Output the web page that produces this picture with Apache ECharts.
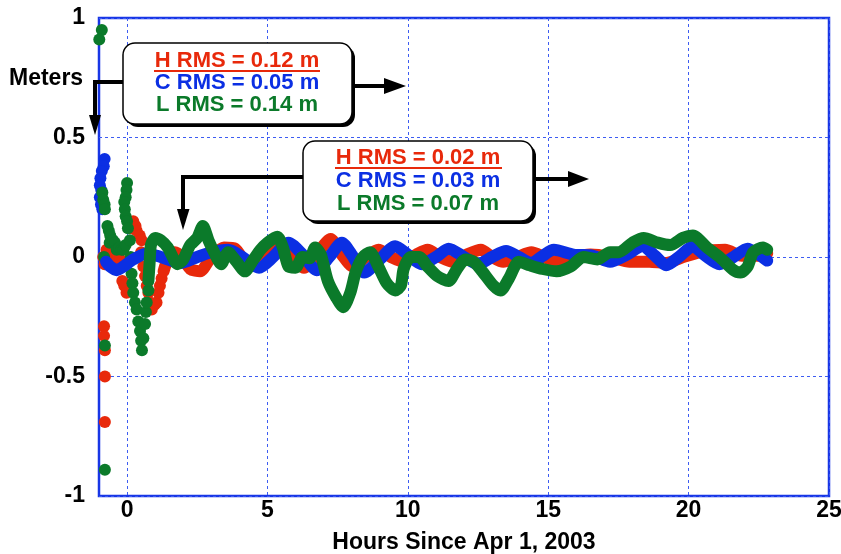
<!DOCTYPE html>
<html>
<head>
<meta charset="utf-8">
<title>Meters vs hours</title>
<script src="https://cdn.jsdelivr.net/npm/echarts@6.0.0/dist/echarts.min.js"></script>
<style>
html, body { margin: 0; padding: 0; background: #fff; }
#chart { width: 841px; height: 554px; }
</style>
</head>
<body>
<div id="chart"></div>
<script>
// tick values
const xTicks = [0, 5, 10, 15, 20, 25];
const yTicks = [-1, -0.5, 0, 0.5, 1];

// H (red) - scattered early dots, then the steady trail
const hDots = [
    [-0.82, -0.29], [-0.82, -0.33], [-0.79, -0.39], [-0.79, -0.50], [-0.79, -0.69],
    [-0.85, 0.0], [-0.8, -0.03], [-0.73, 0.03], [-0.6, 0.01], [-0.49, 0.0], [-0.37, -0.01], [-0.25, -0.01],
    [-0.17, -0.1], [-0.1, -0.12], [-0.02, -0.15],
    [0.15, 0.12], [0.22, 0.15], [0.3, 0.13], [0.34, 0.11], [0.45, 0.09], [0.52, 0.07],
    [0.5, 0.02], [0.58, -0.04], [0.64, -0.08], [0.7, -0.12], [0.76, -0.15], [0.82, -0.19], [0.88, -0.22],
    [0.98, -0.2], [1.05, -0.19], [1.12, -0.15], [1.17, -0.12], [1.23, -0.09]
];
const hTrail = [
    [1.3, -0.06], [1.45, -0.01], [1.7, 0.02], [1.95, 0.0], [2.25, -0.05], [2.6, -0.06], [3.0, 0.0],
    [3.45, 0.04], [3.85, 0.035], [4.35, -0.04], [4.8, -0.01], [5.3, 0.07], [5.8, 0.02], [6.3, -0.045],
    [6.8, 0.02], [7.25, 0.075], [7.65, 0.01], [8.05, -0.04], [8.5, 0.0], [8.95, 0.03], [9.4, 0.0],
    [9.85, -0.02], [10.3, 0.01], [10.7, 0.03], [11.15, 0.0], [11.6, -0.02], [12.1, 0.01], [12.6, 0.03],
    [13.0, 0.0], [13.4, -0.02], [13.9, 0.0], [14.4, 0.02], [14.85, 0.0], [15.3, -0.02], [15.9, 0.0],
    [16.5, 0.01], [17.2, 0.0], [17.9, -0.02], [18.6, -0.02], [19.2, -0.025], [19.8, 0.0], [20.4, 0.02],
    [21.3, 0.03], [21.9, 0.005], [22.4, 0.005], [22.8, 0.015]
];

// C (blue)
const cDots = [
    [-0.8, 0.41], [-0.83, 0.38], [-0.9, 0.36], [-0.95, 0.33], [-0.97, 0.3], [-0.92, 0.28],
    [-0.97, 0.25], [-0.93, 0.22], [-0.88, 0.2]
];
const cTrail = [
    [-0.75, -0.02], [-0.6, -0.04], [-0.37, -0.055], [-0.13, -0.04], [0.22, -0.01], [0.7, 0.015],
    [1.2, 0.0], [1.9, -0.025], [2.5, 0.0], [3.0, 0.02], [3.6, 0.03], [4.1, 0.0], [4.7, -0.045],
    [5.2, 0.0], [5.75, 0.06], [6.25, 0.01], [6.75, -0.055], [7.2, 0.0], [7.65, 0.06], [8.0, 0.01],
    [8.45, -0.065], [9.0, -0.01], [9.55, 0.045], [10.0, 0.01], [10.5, -0.03], [11.0, 0.0], [11.45, 0.035],
    [12.0, 0.0], [12.5, -0.03], [13.0, 0.0], [13.5, 0.025], [13.95, 0.0], [14.4, -0.025], [14.8, 0.005],
    [15.2, 0.03], [15.9, 0.01], [16.6, 0.005], [17.2, -0.02], [17.8, 0.01], [18.35, 0.045], [18.8, 0.005],
    [19.2, -0.035], [19.7, 0.005], [20.15, 0.045], [20.6, 0.005], [21.1, -0.03], [21.6, 0.0], [22.1, 0.035],
    [22.5, 0.01], [22.8, -0.015]
];

// L (green)
const lDots = [
    [-0.9, 0.95], [-0.99, 0.91], [-0.82, 0.0], [-0.79, -0.37], [-0.79, -0.89],
    [-0.88, 0.27], [-0.85, 0.24], [-0.8, 0.22], [-0.79, 0.2],
    [-0.7, 0.13], [-0.65, 0.11], [-0.6, 0.09], [-0.62, 0.06], [-0.5, 0.07], [-0.43, 0.06], [-0.37, 0.03],
    [-0.28, 0.04], [-0.2, 0.03], [-0.13, 0.03], [-0.05, 0.05],
    [0.0, 0.31], [-0.02, 0.28], [-0.05, 0.25], [-0.1, 0.23], [-0.08, 0.2], [-0.05, 0.17], [0.0, 0.15], [0.03, 0.12],
    [0.1, 0.07], [0.13, 0.0], [0.16, -0.07], [0.19, -0.11], [0.22, -0.15], [0.28, -0.19], [0.34, -0.22],
    [0.4, -0.27], [0.46, -0.31], [0.5, -0.35], [0.53, -0.39], [0.58, -0.34], [0.64, -0.28], [0.67, -0.23],
    [0.7, -0.19], [0.76, -0.14]
];
const lTrail = [
    [0.76, -0.1], [0.8, -0.03], [0.85, 0.05], [1.0, 0.08], [1.2, 0.07], [1.45, 0.04], [1.8, -0.03],
    [2.0, -0.01], [2.25, 0.05], [2.5, 0.08], [2.7, 0.13], [2.9, 0.07], [3.1, 0.02], [3.35, -0.03],
    [3.6, 0.02], [3.9, -0.02], [4.2, -0.06], [4.45, -0.02], [4.75, 0.03], [5.0, 0.06], [5.35, 0.085],
    [5.55, 0.04], [5.75, -0.04], [6.0, -0.045], [6.25, 0.0], [6.5, -0.005], [6.7, 0.04], [6.9, 0.01],
    [7.15, -0.1], [7.45, -0.17], [7.7, -0.21], [7.95, -0.15], [8.15, -0.06], [8.4, 0.0], [8.65, 0.02],
    [8.95, -0.04], [9.25, -0.11], [9.55, -0.14], [9.75, -0.12], [9.85, -0.05], [10.1, 0.0], [10.4, 0.0],
    [10.7, -0.04], [11.05, -0.08], [11.45, -0.1], [11.75, -0.05], [12.05, -0.01], [12.35, -0.02],
    [12.65, -0.06], [13.05, -0.12], [13.3, -0.14], [13.6, -0.09], [13.95, -0.02], [14.35, -0.035],
    [14.8, -0.05], [15.3, -0.06], [15.8, -0.04], [16.25, 0.0], [16.75, -0.01], [17.2, 0.02], [17.5, 0.02],
    [18.0, 0.06], [18.4, 0.08], [18.9, 0.06], [19.35, 0.05], [19.8, 0.08], [20.15, 0.09], [20.65, 0.04],
    [21.1, 0.0], [21.6, -0.055], [21.85, -0.065], [22.1, -0.04], [22.3, 0.02], [22.65, 0.04], [22.8, 0.03]
];

const RED = '#e8290b';
const BLUE = '#0b2fe3';
const GREEN = '#0b7a2a';
const FONT = "'Liberation Sans', Arial, Helvetica, sans-serif";

let myChart = echarts.init(document.getElementById('chart'), null, { renderer: 'canvas' });

function dots(data, color) {
    return {
        type: 'scatter', data: data, symbolSize: 12,
        itemStyle: { color: color, opacity: 1 }, silent: true
    };
}

function trail(data, color) {
    return {
        type: 'line', data: data, smooth: 0.25, showSymbol: false, silent: true,
        lineStyle: { width: 12, color: color, cap: 'round', join: 'round' }
    };
}

// annotation box: rounded rect with a dark drop shadow and three lines of text
function box(x, y, w, h, cx, lines, ly) {
    let els = [
        { type: 'rect', shape: { x: x + 3, y: y + 3, width: w, height: h, r: 12 }, style: { fill: '#000' }, z: 100 },
        { type: 'rect', shape: { x: x, y: y, width: w, height: h, r: 12 }, style: { fill: '#fff', stroke: '#000', lineWidth: 1.5 }, z: 101 }
    ];
    lines.forEach((ln, i) => {
        els.push({
            type: 'text', x: cx, y: ly[i], z: 102,
            style: { text: ln[0], fill: ln[1], font: 'bold 22px ' + FONT, align: 'center', verticalAlign: 'middle' }
        });
    });
    return els;
}

function arrowLine(points) {
    return { type: 'polyline', shape: { points: points }, style: { stroke: '#000', lineWidth: 4, fill: null }, z: 99 };
}

function arrowHead(points) {
    return { type: 'polygon', shape: { points: points }, style: { fill: '#000' }, z: 99 };
}

let graphics = [].concat(
    box(123, 43, 229, 81, 237,
        [['H RMS = 0.12 m', RED], ['C RMS = 0.05 m', BLUE], ['L RMS = 0.14 m', GREEN]], [61, 83, 105]),
    [{ type: 'line', shape: { x1: 154, y1: 71, x2: 320, y2: 71 }, style: { stroke: RED, lineWidth: 2 }, z: 103 }],
    [arrowLine([[123, 82], [95, 82], [95, 118]]), arrowHead([[89, 115], [101, 115], [95, 135]])],
    [arrowLine([[352, 86], [386, 86]]), arrowHead([[384, 78], [384, 94], [406, 86]])],
    box(303, 141, 230, 80, 418,
        [['H RMS = 0.02 m', RED], ['C RMS = 0.03 m', BLUE], ['L RMS = 0.07 m', GREEN]], [158, 181, 204]),
    [{ type: 'line', shape: { x1: 335, y1: 168, x2: 502, y2: 168 }, style: { stroke: RED, lineWidth: 2 }, z: 103 }],
    [arrowLine([[303, 177], [183, 177], [183, 212]]), arrowHead([[177, 209], [189.5, 209], [183, 230]])],
    [arrowLine([[533, 179], [570, 179]]), arrowHead([[568, 171], [568, 187], [589, 179]])],
    [{ type: 'text', left: 9, top: 67, z: 102, style: { text: 'Meters', fill: '#000', font: 'bold 23px ' + FONT } }]
);

let option = {
    animation: false,
    backgroundColor: '#fff',
    grid: {
        left: 99, top: 18, width: 730, height: 478,
        outerBoundsMode: 'none', containLabel: false,
        show: true, borderColor: '#1836e6', borderWidth: 2.5, backgroundColor: 'transparent'
    },
    xAxis: {
        type: 'value', min: -1, max: 25,
        name: 'Hours Since Apr 1, 2003', nameLocation: 'middle', nameGap: 35,
        nameTextStyle: { fontFamily: FONT, fontWeight: 'bold', fontSize: 23, color: '#000' },
        axisLine: { show: false },
        axisTick: { show: false, customValues: xTicks },
        axisLabel: { customValues: xTicks, margin: 3, fontFamily: FONT, fontWeight: 'bold', fontSize: 23, color: '#000' },
        splitLine: { show: true, lineStyle: { color: '#3d5cf2', width: 1, type: [3, 3] } }
    },
    yAxis: {
        type: 'value', min: -1, max: 1, interval: 0.5,
        axisLine: { show: false },
        axisTick: { show: false },
        axisLabel: {
            margin: 14, fontFamily: FONT, fontWeight: 'bold', fontSize: 23, color: '#000',
            formatter: (v) => yTicks.indexOf(v) >= 0 ? String(v) : ''
        },
        splitLine: { show: true, lineStyle: { color: '#3d5cf2', width: 1, type: [3, 3] } }
    },
    series: [
        dots(hDots, RED), trail(hTrail, RED),
        dots(cDots, BLUE), trail(cTrail, BLUE),
        dots(lDots, GREEN), trail(lTrail, GREEN)
    ],
    graphic: graphics
};

myChart.setOption(option);
</script>
</body>
</html>
